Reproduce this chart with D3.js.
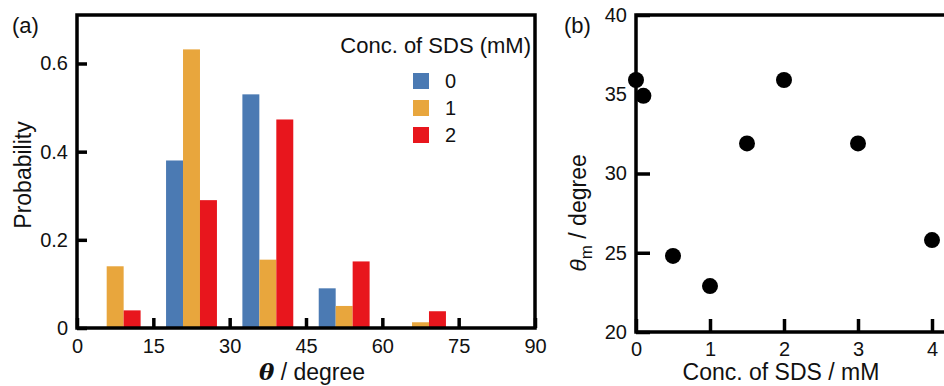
<!DOCTYPE html>
<html>
<head>
<meta charset="utf-8">
<script src="https://cdn.jsdelivr.net/npm/d3@7"></script>
<style>
  body { margin: 0; background: #fff; }
  svg text { font-family: "Liberation Sans", Arial, sans-serif; fill: #111; }
</style>
</head>
<body>
<svg id="fig"></svg>
<script>
// data
var binStarts = [0, 15, 30, 45, 60, 75];
var concLabels = ["0", "1", "2"];
var prob0 = [0, 0.38, 0.53, 0.09, 0, 0];
var prob1 = [0.14, 0.632, 0.155, 0.05, 0.013, 0];
var prob2 = [0.04, 0.29, 0.473, 0.151, 0.038, 0];
var barColors = ["#4b7ab3", "#e8a63d", "#e8161d"];

var sdsConc = [0, 0.1, 0.5, 1, 1.5, 2, 3, 4];
var thetaM  = [35.9, 34.9, 24.8, 22.9, 31.9, 35.9, 31.9, 25.8];

var xTicksA = [0, 15, 30, 45, 60, 75, 90];
var yTicksA = [0, 0.2, 0.4, 0.6];
var xTicksB = [0, 1, 2, 3, 4];
var yTicksB = [20, 25, 30, 35, 40];

var width = 944, height = 386;
var svg = d3.select("#fig").attr("width", width).attr("height", height);

// ---------- panel (a) ----------
var xa = d3.scaleLinear().domain([0, 90]).range([77, 535]);
var ya = d3.scaleLinear().domain([0, 0.71]).range([328, 15]);
var inner = d3.scaleBand().domain(concLabels).range([0, 10]).padding(0);

var series = [prob0, prob1, prob2];
var ga = svg.append("g");

series.forEach(function(vals, s){
    ga.selectAll(".bar" + s)
      .data(vals)
      .enter()
      .append("rect")
      .attr("class", "bar" + s)
      .attr("x", function(d, i){ return xa(binStarts[i] + 2.5 + inner(concLabels[s])); })
      .attr("width", function(){ return xa(inner.bandwidth()) - xa(0); })
      .attr("y", function(d){ return ya(d); })
      .attr("height", function(d){ return ya(0) - ya(d); })
      .attr("fill", barColors[s]);
});

var axA = ga.append("g")
    .attr("transform", "translate(0," + ya(0) + ")")
    .call(d3.axisBottom(xa).tickValues(xTicksA).tickSizeInner(-10).tickSizeOuter(0).tickPadding(11));
var ayA = ga.append("g")
    .attr("transform", "translate(" + xa(0) + ",0)")
    .call(d3.axisLeft(ya).tickValues(yTicksA).tickFormat(function(d){ return d === 0 ? "0" : d3.format(".1f")(d); })
          .tickSizeInner(-10).tickSizeOuter(0).tickPadding(9));

[axA, ayA].forEach(function(a){
    a.select(".domain").remove();
    a.selectAll("line").attr("stroke", "#000").attr("stroke-width", 3.5);
    a.selectAll("text").style("font-size", "20px").attr("fill", "#111");
});

ga.append("rect")
  .attr("x", xa(0)).attr("y", ya(0.71))
  .attr("width", xa(90) - xa(0)).attr("height", ya(0) - ya(0.71))
  .attr("fill", "none").attr("stroke", "#000").attr("stroke-width", 3.5);

ga.append("text").attr("x", 12).attr("y", 33).style("font-size", "22px").text("(a)");

ga.append("text")
  .attr("transform", "translate(31,175) rotate(-90)")
  .attr("text-anchor", "middle")
  .style("font-size", "23px")
  .text("Probability");

var xt = ga.append("text")
  .attr("x", 312).attr("y", 380)
  .attr("text-anchor", "middle")
  .style("font-size", "23px");
xt.append("tspan").style("font-family", "'DejaVu Serif', serif").style("font-style", "italic").style("font-weight", "bold").text("θ");
xt.append("tspan").text(" / degree");

// legend
var lg = ga.append("g");
lg.append("text").attr("x", 531).attr("y", 53).attr("text-anchor", "end").style("font-size", "22px").text("Conc. of SDS (mM)");
lg.selectAll(".lgbox")
  .data(concLabels)
  .enter()
  .append("rect")
  .attr("class", "lgbox")
  .attr("x", 413).attr("y", function(d, i){ return 73 + i * 27; })
  .attr("width", 16).attr("height", 16)
  .attr("fill", function(d, i){ return barColors[i]; });
lg.selectAll(".lgtxt")
  .data(concLabels)
  .enter()
  .append("text")
  .attr("class", "lgtxt")
  .attr("x", 445).attr("y", function(d, i){ return 88 + i * 27; })
  .style("font-size", "20px")
  .text(function(d){ return d; });

// ---------- panel (b) ----------
var xb = d3.scaleLinear().domain([0, 5]).range([636, 1006]);
var yb = d3.scaleLinear().domain([20, 40]).range([332, 15]);
var gb = svg.append("g");

var axB = gb.append("g")
    .attr("transform", "translate(0," + yb(20) + ")")
    .call(d3.axisBottom(xb).tickValues(xTicksB).tickFormat(d3.format("d")).tickSizeInner(-13).tickSizeOuter(0).tickPadding(10));
var ayB = gb.append("g")
    .attr("transform", "translate(" + xb(0) + ",0)")
    .call(d3.axisLeft(yb).tickValues(yTicksB).tickSizeInner(-14).tickSizeOuter(0).tickPadding(9));

[axB, ayB].forEach(function(a){
    a.select(".domain").remove();
    a.selectAll("line").attr("stroke", "#000").attr("stroke-width", 3.5);
    a.selectAll("text").style("font-size", "20px").attr("fill", "#111");
});

gb.append("rect")
  .attr("x", xb(0)).attr("y", yb(40))
  .attr("width", xb(5) - xb(0)).attr("height", yb(20) - yb(40))
  .attr("fill", "none").attr("stroke", "#000").attr("stroke-width", 3.5);

gb.selectAll(".dot")
  .data(sdsConc)
  .enter()
  .append("circle")
  .attr("class", "dot")
  .attr("cx", function(d){ return xb(d); })
  .attr("cy", function(d, i){ return yb(thetaM[i]); })
  .attr("r", 8)
  .attr("fill", "#000");

gb.append("text").attr("x", 564).attr("y", 33).style("font-size", "22px").text("(b)");

var yl = gb.append("text")
  .attr("transform", "translate(586,213) rotate(-90)")
  .attr("text-anchor", "middle")
  .style("font-size", "23px");
yl.append("tspan").style("font-style", "italic").text("θ");
yl.append("tspan").attr("dy", 6).style("font-size", "17px").text("m");
yl.append("tspan").attr("dy", -6).text(" / degree");

gb.append("text")
  .attr("x", 781).attr("y", 380)
  .attr("text-anchor", "middle")
  .style("font-size", "23px")
  .text("Conc. of SDS / mM");
</script>
</body>
</html>
